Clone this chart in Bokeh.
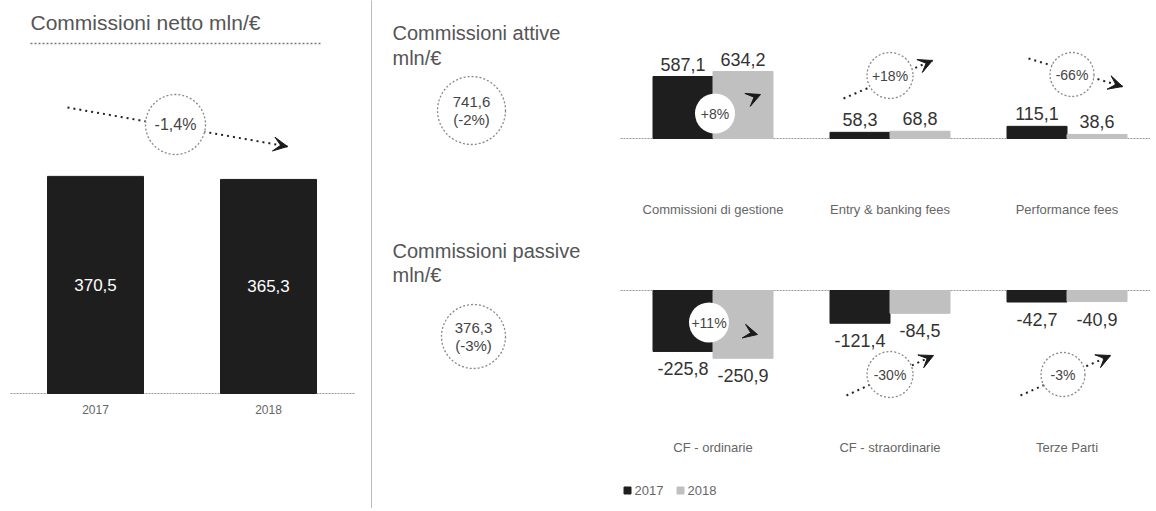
from bokeh.plotting import figure
from bokeh.models import Range1d, ColumnDataSource, Arrow, VeeHead
from bokeh.embed import file_html
from bokeh.resources import INLINE
from bokeh.core.properties import value

# ---------------- data ----------------
years = ["2017", "2018"]
netto = [370.5, 365.3]
netto_change = "-1,4%"

attive_cats = ["Commissioni di gestione", "Entry & banking fees", "Performance fees"]
attive_2017 = [587.1, 58.3, 115.1]
attive_2018 = [634.2, 68.8, 38.6]
attive_change = ["+8%", "+18%", "-66%"]
attive_total = "741,6"
attive_total_change = "(-2%)"

passive_cats = ["CF - ordinarie", "CF - straordinarie", "Terze Parti"]
passive_2017 = [-225.8, -121.4, -42.7]
passive_2018 = [-250.9, -84.5, -40.9]
passive_change = ["+11%", "-30%", "-3%"]
passive_total = "376,3"
passive_total_change = "(-3%)"

# ---------------- style ----------------
FONT = value("Liberation Sans")
DARK = "#1e1e1e"
LIGHT = "#c0c0c0"
HEAD_C = "#555555"
TXT_C = "#333333"
CAT_C = "#666666"


def fmt(v):
    return f"{v:.1f}".replace(".", ",")


W, H = 1150, 508
X0, Y0 = 0, 0  # screen position of the frame's top-left corner


def lin(v0, p0, v1, p1, pa, pb):
    k = (v1 - v0) / (p1 - p0)
    return Range1d(start=v0 + (pa - p0) * k, end=v0 + (pb - p0) * k)


p = figure(width=W, height=H, x_range=Range1d(X0, X0 + W), y_range=Range1d(Y0 + H, Y0),
           output_backend="svg", toolbar_location=None, min_border=0,
           x_axis_location=None, y_axis_location=None)
p.grid.visible = False
p.outline_line_color = None

# scales for the three charts
GX0, GSTEP = 712.5, 177.0
p.extra_x_ranges = {
    "L": lin(0, 95, 1, 268, X0, X0 + W),
    "R": lin(0, GX0, 1, GX0 + GSTEP, X0, X0 + W),
}
p.extra_y_ranges = {
    "LY": lin(0, 393, 100, 393 - 58.6, Y0 + H, Y0),
    "TY": lin(0, 138, 100, 138 - 10.56, Y0 + H, Y0),
    "BY": lin(0, 290, -100, 290 + 27.0, Y0 + H, Y0),
}


def gpx(g):
    return GX0 + GSTEP * g


# ---------------- separator & baselines ----------------
p.segment(x0=[371], y0=[Y0], x1=[371], y1=[Y0 + H], line_color="#777777", line_dash="1 1", line_width=1)
p.segment(x0=[30], y0=[43], x1=[320], y1=[43], line_color="#777777", line_dash="2 2", line_width=1.5)
p.segment(x0=[10, 620, 620], y0=[393, 138, 290], x1=[355, X0 + W, X0 + W], y1=[393, 138, 290],
          line_color="#999999", line_dash="2 1", line_width=1)

# ---------------- left chart ----------------
p.text(x=[30], y=[22], text=["Commissioni netto mln/€"], text_font=FONT, text_font_size="21px",
       text_color=HEAD_C, text_baseline="middle", text_align="left")

lsrc = ColumnDataSource(dict(x=list(range(len(years))), top=netto,
                             mid=[v / 2 for v in netto], lab=[fmt(v) for v in netto], yr=years))
p.vbar(x="x", top="top", bottom=0, width=96 / 173, source=lsrc, fill_color=DARK, line_color=DARK,
       x_range_name="L", y_range_name="LY")
p.text(x="x", y="mid", text="lab", source=lsrc, text_font=FONT, text_font_size="17px", text_color="white",
       text_align="center", text_baseline="middle", x_range_name="L", y_range_name="LY")
p.text(x="x", y=0, text="yr", source=lsrc, text_font=FONT, text_font_size="12px", text_color=CAT_C,
       text_align="center", text_baseline="top", y_offset=11, x_range_name="L", y_range_name="LY")

# ---------------- middle column ----------------
p.text(x=[392, 392, 392, 392], y=[32, 57, 250, 274],
       text=["Commissioni attive", "mln/€", "Commissioni passive", "mln/€"],
       text_font=FONT, text_font_size="20px", text_color=HEAD_C, text_baseline="middle", text_align="left")

# ---------------- decorations: dotted trend arrows ----------------
arrows = [
    (67, 107, 287, 146),
    (gpx(0) + 2, 113, 760, 94), (843, 98, 932, 60), (1028, 58, 1122, 86),
    (gpx(0) - 4, 322, 757, 334), (846, 395, 933, 355), (1020, 395, 1110, 355),
]
p.segment(x0=[a[0] for a in arrows], y0=[a[1] for a in arrows], x1=[a[2] for a in arrows],
          y1=[a[3] for a in arrows], line_color="#222222", line_dash="2 4", line_width=2)

# ---------------- right top chart ----------------
bw = 60 / GSTEP
idx = list(range(len(attive_cats)))
tsrc = ColumnDataSource(dict(
    x1=[g - bw / 2 for g in idx], x2=[g + bw / 2 for g in idx],
    v1=attive_2017, v2=attive_2018,
    l1=[fmt(v) for v in attive_2017], l2=[fmt(v) for v in attive_2018], g=idx, cat=attive_cats))
p.vbar(x="x1", top="v1", bottom=0, width=bw, source=tsrc, fill_color=DARK, line_color=DARK,
       x_range_name="R", y_range_name="TY")
p.vbar(x="x2", top="v2", bottom=0, width=bw, source=tsrc, fill_color=LIGHT, line_color=LIGHT,
       x_range_name="R", y_range_name="TY")
for xc, vc, lc in (("x1", "v1", "l1"), ("x2", "v2", "l2")):
    p.text(x=xc, y=vc, text=lc, source=tsrc, text_font=FONT, text_font_size="18px", text_color=TXT_C,
           text_align="center", text_baseline="bottom", y_offset=-6, x_range_name="R", y_range_name="TY")
p.text(x="g", y=0, text="cat", source=tsrc, text_font=FONT, text_font_size="13px", text_color=CAT_C,
       text_align="center", text_baseline="middle", y_offset=71, x_range_name="R", y_range_name="TY")

# ---------------- right bottom chart ----------------
idx2 = list(range(len(passive_cats)))
bsrc = ColumnDataSource(dict(
    x1=[g - bw / 2 for g in idx2], x2=[g + bw / 2 for g in idx2],
    v1=passive_2017, v2=passive_2018,
    l1=[fmt(v) for v in passive_2017], l2=[fmt(v) for v in passive_2018], g=idx2, cat=passive_cats))
p.vbar(x="x1", top=0, bottom="v1", width=bw, source=bsrc, fill_color=DARK, line_color=DARK,
       x_range_name="R", y_range_name="BY")
p.vbar(x="x2", top=0, bottom="v2", width=bw, source=bsrc, fill_color=LIGHT, line_color=LIGHT,
       x_range_name="R", y_range_name="BY")
for xc, vc, lc in (("x1", "v1", "l1"), ("x2", "v2", "l2")):
    p.text(x=xc, y=vc, text=lc, source=bsrc, text_font=FONT, text_font_size="18px", text_color=TXT_C,
           text_align="center", text_baseline="top", y_offset=11, x_range_name="R", y_range_name="BY")
p.text(x="g", y=0, text="cat", source=bsrc, text_font=FONT, text_font_size="13px", text_color=CAT_C,
       text_align="center", text_baseline="middle", y_offset=157, x_range_name="R", y_range_name="BY")

# ---------------- circles with changes ----------------
dotted_circles = [
    (175, 124, 60, netto_change, "16px"),
    (gpx(1), 75, 46, attive_change[1], "14px"),
    (gpx(2) + 5, 74, 44, attive_change[2], "14px"),
    (gpx(1), 374, 46, passive_change[1], "14px"),
    (gpx(2) - 4, 374, 44, passive_change[2], "14px"),
]
solid_circles = [
    (gpx(0) + 2, 113, 40, attive_change[0], "14px"),
    (gpx(0) - 4, 322, 40, passive_change[0], "14px"),
]
p.scatter(x=[c[0] for c in dotted_circles], y=[c[1] for c in dotted_circles],
          size=[c[2] for c in dotted_circles], marker="circle", fill_color="white",
          line_color="#888888", line_dash="2 2", line_width=1.3)
p.scatter(x=[c[0] for c in solid_circles], y=[c[1] for c in solid_circles],
          size=[c[2] for c in solid_circles], marker="circle", fill_color="white", line_color=None)
for c in dotted_circles + solid_circles:
    p.text(x=[c[0]], y=[c[1]], text=[c[3]], text_font=FONT, text_font_size=c[4], text_color="#444444",
           text_align="center", text_baseline="middle")

# totals
p.scatter(x=[471, 473], y=[110, 336], size=[68, 64], marker="circle", fill_color="white",
          line_color="#888888", line_dash="2 2", line_width=1.3)
p.text(x=[471, 471, 473, 473], y=[101, 119, 327, 345],
       text=[attive_total, attive_total_change, passive_total, passive_total_change],
       text_font=FONT, text_font_size="15px", text_color="#444444", text_align="center", text_baseline="middle")

# arrow heads
for a in arrows:
    dx, dy = a[2] - a[0], a[3] - a[1]
    n = (dx * dx + dy * dy) ** 0.5
    p.add_layout(Arrow(x_start=a[2] - dx / n * 6, y_start=a[3] - dy / n * 6, x_end=a[2], y_end=a[3],
                       line_alpha=0,
                       end=VeeHead(size=14, fill_color="#1a1a1a", line_color="#1a1a1a")))

# ---------------- legend ----------------
p.scatter(x=[627, 680], y=[490, 490], size=7, marker="square", fill_color=[DARK, LIGHT],
          line_color=[DARK, LIGHT])
p.text(x=[634, 687], y=[490, 490], text=years, text_font=FONT, text_font_size="13px",
       text_color=CAT_C, text_align="left", text_baseline="middle")

open("out.html", "w").write(file_html(p, INLINE))
